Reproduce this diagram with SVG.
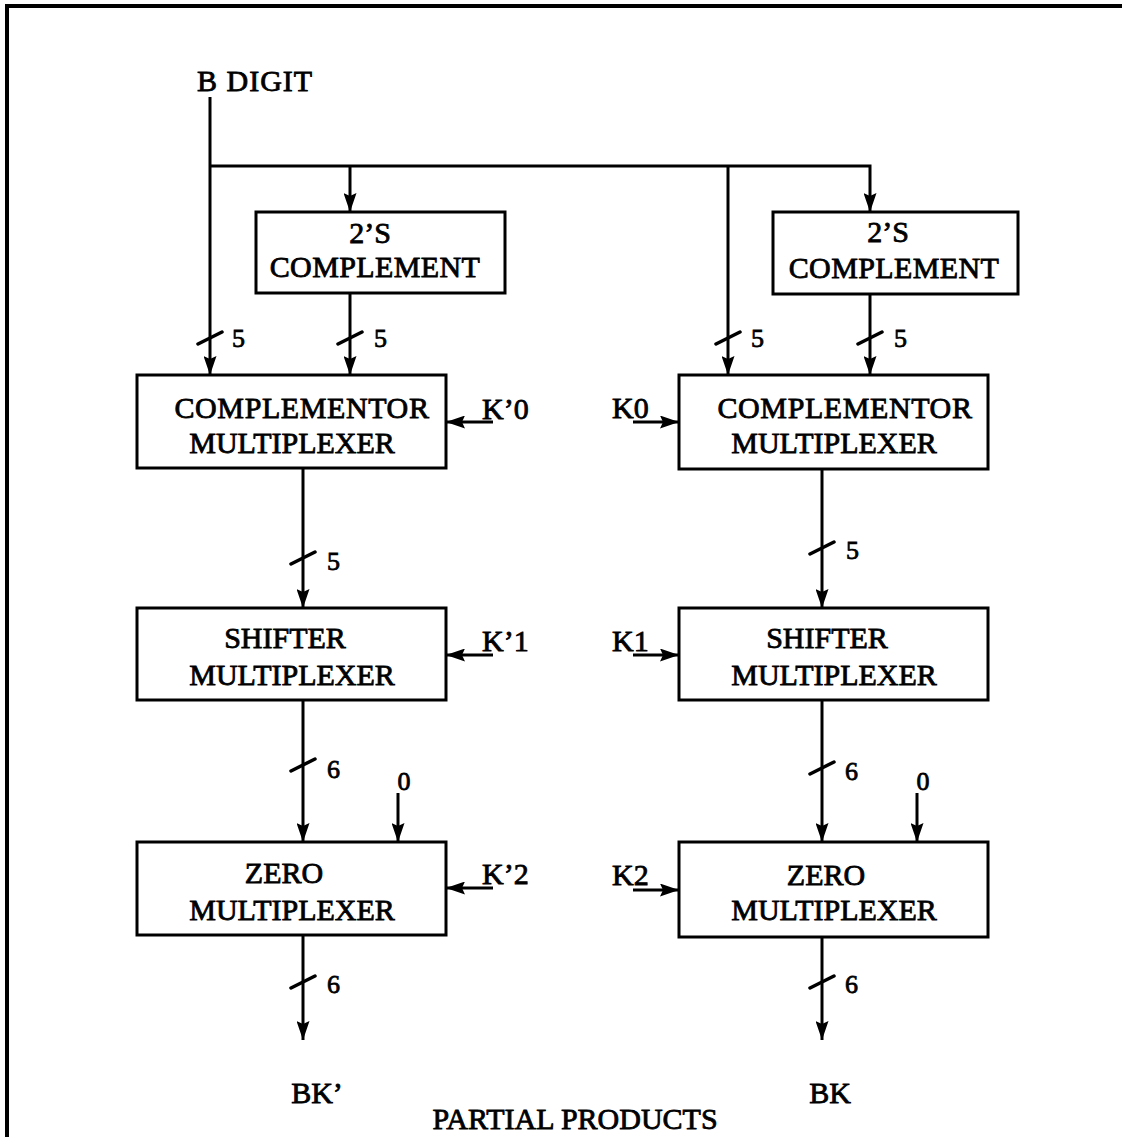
<svg xmlns="http://www.w3.org/2000/svg" width="1122" height="1137" viewBox="0 0 1122 1137">
  <style>
    .box { fill: #fff; stroke: #000; stroke-width: 3; }
    .wire { fill: none; stroke: #000; stroke-width: 3; }
    .arr { marker-end: url(#ah); }
    .tick { stroke: #000; stroke-width: 3.5; stroke-linecap: round; }
    text { font-family: "Liberation Serif", "DejaVu Serif", serif; font-size: 30px; fill: #000; stroke: #000; stroke-width: 0.8; }
    .mid { text-anchor: middle; }
    .num { font-size: 26px; }
  </style>
  <defs>
    <marker id="ah" markerUnits="userSpaceOnUse" markerWidth="20" markerHeight="13" refX="19" refY="6.5" orient="auto">
      <path d="M0,0 L19,6.5 L0,13 L3,6.5 Z" fill="#000"/>
    </marker>
  </defs>

  <rect width="1122" height="1137" fill="#fff"/>

  <!-- frame (top and left edges) -->
  <path d="M7,1137 V6 H1122" fill="none" stroke="#000" stroke-width="4"/>

  <!-- input label -->
  <text x="197" y="91" letter-spacing="1">B DIGIT</text>

  <g id="connectors">
    <!-- B digit distribution -->
    <path class="wire arr" d="M210,97 V375"/>
    <path class="wire arr" d="M210,166 H870 V212"/>
    <path class="wire arr" d="M350,166 V212"/>
    <path class="wire arr" d="M728,166 V375"/>
    <path class="wire arr" d="M350,293 V375"/>
    <path class="wire arr" d="M870,294 V375"/>
    <!-- mux chain, left -->
    <path class="wire arr" d="M303,468 V608"/>
    <path class="wire arr" d="M303,700 V842"/>
    <path class="wire arr" d="M303,935 V1040"/>
    <path class="wire arr" d="M398,793 V842"/>
    <!-- mux chain, right -->
    <path class="wire arr" d="M822,469 V608"/>
    <path class="wire arr" d="M822,700 V842"/>
    <path class="wire arr" d="M822,937 V1040"/>
    <path class="wire arr" d="M917,793 V842"/>
    <!-- control inputs -->
    <path class="wire arr" d="M493,422 H446"/>
    <path class="wire arr" d="M493,655 H446"/>
    <path class="wire arr" d="M493,888 H446"/>
    <path class="wire arr" d="M633,422 H679"/>
    <path class="wire arr" d="M633,655 H679"/>
    <path class="wire arr" d="M633,890 H679"/>
    <!-- bus width ticks -->
    <path class="tick" d="M198,344 L222,332 M338,344 L362,332 M716,344 L740,332 M858,344 L882,332"/>
    <path class="tick" d="M291,564 L315,552 M810,554 L834,542"/>
    <path class="tick" d="M291,771 L315,759 M810,774 L834,762"/>
    <path class="tick" d="M291,988 L315,976 M810,988 L834,976"/>
    <!-- bus widths -->
    <text class="num" x="232" y="347">5</text>
    <text class="num" x="374" y="347">5</text>
    <text class="num" x="751" y="347">5</text>
    <text class="num" x="894" y="347">5</text>
    <text class="num" x="327" y="570">5</text>
    <text class="num" x="846" y="559">5</text>
    <text class="num" x="327" y="778">6</text>
    <text class="num" x="845" y="780">6</text>
    <text class="num" x="327" y="993">6</text>
    <text class="num" x="845" y="993">6</text>
    <text class="num mid" x="404" y="790">0</text>
    <text class="num mid" x="923" y="790">0</text>
    <!-- control labels -->
    <text x="482" y="419">K’0</text>
    <text x="482" y="651">K’1</text>
    <text x="482" y="884">K’2</text>
    <text x="612" y="418">K0</text>
    <text x="612" y="651">K1</text>
    <text x="612" y="885">K2</text>
  </g>

  <g id="twos-left">
    <rect class="box" x="256" y="212" width="249" height="81"/>
    <text class="mid" x="370" y="243">2’S</text>
    <text class="mid" x="375" y="277" letter-spacing="0.4">COMPLEMENT</text>
  </g>
  <g id="twos-right">
    <rect class="box" x="773" y="212" width="245" height="82"/>
    <text class="mid" x="888" y="242">2’S</text>
    <text class="mid" x="894" y="278" letter-spacing="0.4">COMPLEMENT</text>
  </g>

  <g id="cmux-left">
    <rect class="box" x="137" y="375" width="309" height="93"/>
    <text class="mid" x="302" y="418" letter-spacing="0.6">COMPLEMENTOR</text>
    <text class="mid" x="292" y="453">MULTIPLEXER</text>
  </g>
  <g id="cmux-right">
    <rect class="box" x="679" y="375" width="309" height="94"/>
    <text class="mid" x="845" y="418" letter-spacing="0.6">COMPLEMENTOR</text>
    <text class="mid" x="834" y="453">MULTIPLEXER</text>
  </g>

  <g id="smux-left">
    <rect class="box" x="137" y="608" width="309" height="92"/>
    <text class="mid" x="285" y="648">SHIFTER</text>
    <text class="mid" x="292" y="685">MULTIPLEXER</text>
  </g>
  <g id="smux-right">
    <rect class="box" x="679" y="608" width="309" height="92"/>
    <text class="mid" x="827" y="648">SHIFTER</text>
    <text class="mid" x="834" y="685">MULTIPLEXER</text>
  </g>

  <g id="zmux-left">
    <rect class="box" x="137" y="842" width="309" height="93"/>
    <text class="mid" x="284" y="883">ZERO</text>
    <text class="mid" x="292" y="920">MULTIPLEXER</text>
  </g>
  <g id="zmux-right">
    <rect class="box" x="679" y="842" width="309" height="95"/>
    <text class="mid" x="826" y="885">ZERO</text>
    <text class="mid" x="834" y="920">MULTIPLEXER</text>
  </g>

  <!-- outputs -->
  <text class="mid" x="317" y="1103">BK’</text>
  <text class="mid" x="830" y="1103">BK</text>
  <text class="mid" x="575" y="1129">PARTIAL PRODUCTS</text>
</svg>
